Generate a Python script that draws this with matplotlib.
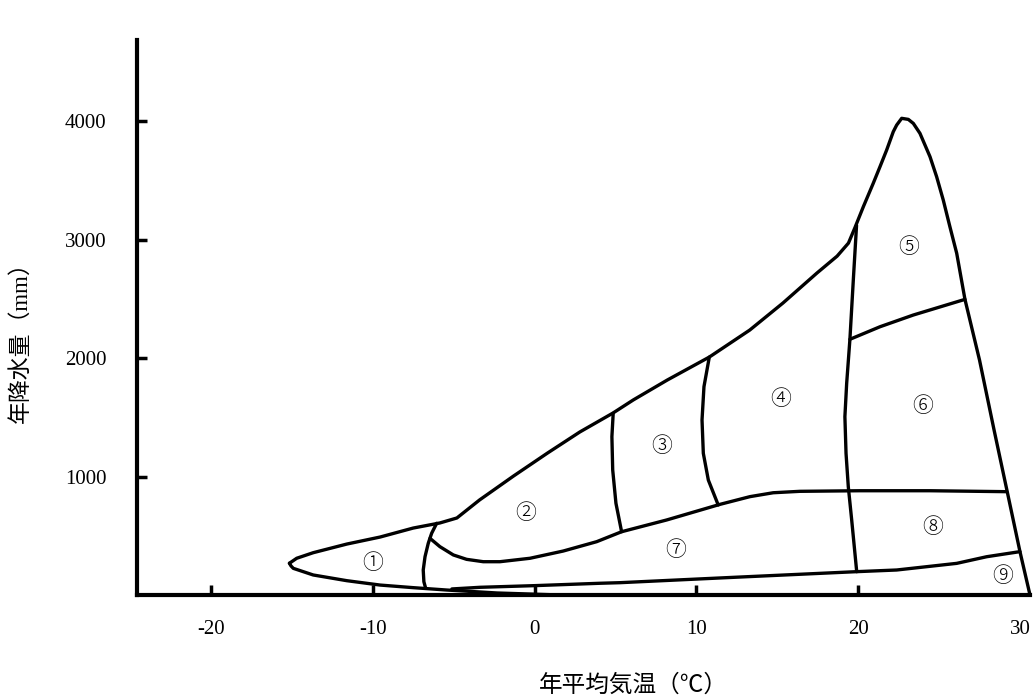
import matplotlib
matplotlib.use('Agg')
import matplotlib.pyplot as plt

# outer boundary, from the left tip over the peak down to the right corner
upper_t = [-15.15, -14.7, -13.68, -11.6, -9.55, -7.5, -5.85, -4.8, -3.4, -1.3, 0.8, 2.8,
           4.85, 6.1, 8.2, 10.8, 13.3, 15.35, 17.45, 18.7, 19.4, 19.8, 20.32, 20.93, 21.35,
           21.76, 22.17, 22.38, 22.69, 23.10, 23.41, 23.82, 24.44, 24.85, 25.26, 25.67, 26.09,
           26.6, 27.5, 28.4, 29.2, 30.0, 30.62]
upper_p = [268, 310, 357, 430, 489, 565, 608, 650, 802, 1004, 1198, 1376,
           1536, 1646, 1814, 2008, 2236, 2464, 2717, 2860, 2970, 3100, 3277, 3474, 3615,
           3755, 3910, 3966, 4023, 4014, 3980, 3896, 3699, 3530, 3333, 3108, 2884,
           2495, 1983, 1392, 880, 366, 0]

# lower edge of zone 1, tip down to the x axis
lower_t = [-15.15, -15.05, -14.91, -13.68, -11.61, -9.55, -7.5, -5.43, -2.32, 1.6]
lower_p = [268, 245, 225, 169, 121, 84, 62, 42, 17, 0]

# zone borders
div12_t = [-6.05, -6.36, -6.57, -6.77, -6.88, -6.84, -6.73]
div12_p = [605, 521, 436, 323, 211, 112, 57]

curve27_t = [-6.46, -5.85, -5.02, -4.20, -3.17, -2.14, -0.28, 1.77, 3.84, 5.38, 8.16,
             11.46, 13.31, 14.75, 16.40, 20.11, 24.44, 29.18]
curve27_p = [478, 408, 338, 301, 281, 281, 310, 371, 450, 534, 633,
             765, 830, 863, 875, 880, 880, 872]

div23_t = [4.86, 4.78, 4.83, 5.03, 5.38]
div23_p = [1533, 1336, 1055, 774, 534]

div34_t = [10.8, 10.47, 10.35, 10.43, 10.74, 11.35]
div34_p = [2008, 1758, 1477, 1196, 970, 760]

divmain_t = [19.9, 19.70, 19.49, 19.29, 19.18, 19.25, 19.39, 19.60, 19.80, 19.91]
divmain_p = [3120, 2658, 2158, 1787, 1505, 1196, 914, 633, 352, 197]

line56_t = [19.49, 21.35, 23.41, 26.6]
line56_p = [2158, 2264, 2363, 2495]

bottom_t = [-5.11, -3.37, 0.0, 4.04, 5.28, 12.28, 19.91, 22.38, 26.09, 27.94, 30.0]
bottom_p = [51, 65, 79, 99, 104, 149, 197, 211, 267, 323, 366]

zone_names = ['①', '②', '③', '④', '⑤', '⑥', '⑦', '⑧', '⑨']
zone_t = [-9.99, -0.53, 7.87, 15.23, 23.14, 24.0, 8.74, 24.62, 28.95]
zone_p = [270, 692, 1257, 1654, 2937, 1595, 380, 574, 160]

x_ticks = [-20, -10, 0, 10, 20, 30]
y_ticks = [1000, 2000, 3000, 4000]

plt.rcParams['font.family'] = ['Liberation Serif', 'Noto Sans CJK JP']

fig = plt.figure(figsize=(10.34, 6.99), dpi=100)
ax = fig.add_axes([137 / 1034, 1 - 595 / 699, (1030 - 137) / 1034, (595 - 40) / 699])

segs = [(upper_t, upper_p), (lower_t, lower_p), (div12_t, div12_p), (curve27_t, curve27_p),
        (div23_t, div23_p), (div34_t, div34_p), (divmain_t, divmain_p),
        (line56_t, line56_p), (bottom_t, bottom_p)]
for t, p in segs:
    ax.plot(t, p, color='black', lw=2.4, solid_joinstyle='round',
            solid_capstyle='round', clip_on=False)

for name, t, p in zip(zone_names, zone_t, zone_p):
    ax.text(t, p, name, ha='center', va='center', fontsize=15,
            family=['Noto Sans CJK JP'], fontweight='light')

ax.set_xlim(-24.57, 30.62)
ax.set_ylim(0, 4684)
ax.spines['top'].set_visible(False)
ax.spines['right'].set_visible(False)
ax.spines['left'].set_linewidth(3)
ax.spines['bottom'].set_linewidth(3)

ax.set_xticks(x_ticks)
ax.set_xticklabels([str(v) for v in x_ticks])
ax.set_yticks(y_ticks)
ax.set_yticklabels([str(v) for v in y_ticks])
ax.tick_params(axis='both', direction='in', length=7.5, width=2.5, labelsize=15)
ax.tick_params(axis='x', pad=18)
ax.tick_params(axis='y', pad=22)
ax.xaxis.get_major_ticks()[-1].tick1line.set_visible(False)

fig.text(633 / 1034, 1 - 685 / 699, '年平均気温（℃）', ha='center', va='center', fontsize=17)
fig.text(21 / 1034, 1 - 337 / 699, '年降水量（mm）', ha='center', va='center',
         rotation=90, fontsize=16.5)

fig.savefig('out.png', dpi=100)
